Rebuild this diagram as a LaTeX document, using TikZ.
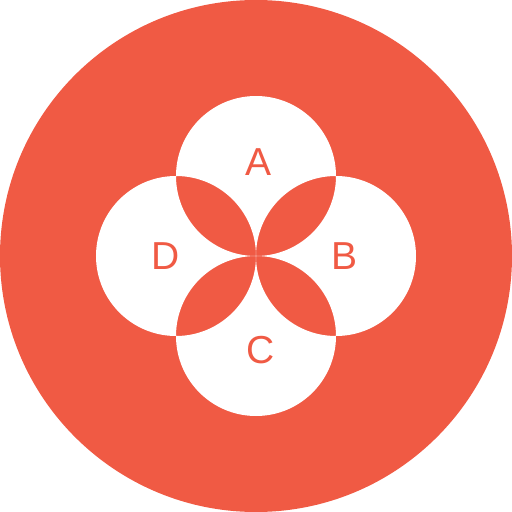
\documentclass[tikz,border=0pt]{standalone}
\usepackage{fontspec}
\setmainfont{Liberation Sans}
\definecolor{vnred}{HTML}{F05A44}
\begin{document}
\begin{tikzpicture}[x=1pt,y=1pt,
  petal/.style={fill=white,even odd rule},
  lab/.style={text=vnred,font=\fontsize{39}{39}\selectfont,inner sep=0pt}]
\useasboundingbox (-256,-256) rectangle (256,256);
\fill[vnred] (0,0) circle (256);
% four sets, overlaps left in red
\path[petal] (0,80) circle (80) (80,0) circle (80)
  (0,-80) circle (80) (-80,0) circle (80);
\node[lab] (a) at (3,94) {A};
\node[lab] (b) at (89,0) {B};
\node[lab] (c) at (5,-94) {C};
\node[lab] (d) at (-90,0) {D};
\end{tikzpicture}
\end{document}
